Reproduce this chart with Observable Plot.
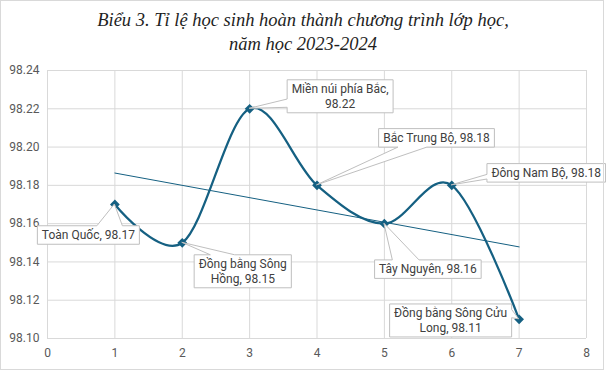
<!DOCTYPE html>
<html><head><meta charset="utf-8">
<script src="https://cdn.jsdelivr.net/npm/d3@7"></script>
<script src="https://cdn.jsdelivr.net/npm/@observablehq/plot@0.6"></script>
<style>
html,body{margin:0;padding:0;background:#fff;}
#wrap{position:relative;width:606px;height:372px;overflow:hidden;background:#fff;}
#frame{position:absolute;left:0;top:0;width:604px;height:370px;border:1px solid #d9d9d9;box-sizing:border-box;pointer-events:none;}
#title{height:60px;box-sizing:border-box;padding-top:8px;text-align:center;font-family:"Liberation Serif","Times New Roman",serif;font-style:italic;font-size:18.5px;line-height:24px;color:#1f1f1f;}
#chart svg{display:block;}
</style></head><body>
<div id="wrap">
<div id="title">Biểu 3. Tỉ lệ học sinh hoàn thành chương trình lớp học,<br>năm học 2023-2024</div>
<div id="chart"></div>
<div id="frame"></div>
</div>
<script>
// ---- data ----
const regions = ["Toàn Quốc", "Đồng bằng Sông Hồng", "Miền núi phía Bắc", "Bắc Trung Bộ", "Tây Nguyên", "Đông Nam Bộ", "Đồng bằng Sông Cửu Long"];
const xPositions = [1, 2, 3, 4, 5, 6, 7];
const rates = [98.17, 98.15, 98.22, 98.18, 98.16, 98.18, 98.11];
const xTicks = [0, 1, 2, 3, 4, 5, 6, 7, 8];
const yTicks = [98.10, 98.12, 98.14, 98.16, 98.18, 98.20, 98.22, 98.24];

// ---- label layout (words on first line; 0 = single line) and callout offsets in px ----
const labelWrapWords = [0, 3, 4, 0, 0, 0, 4];
const calloutOffset = [[-26, 31], [61, 29], [91, -12], [120, -47], [44, 46], [95, -12], [-68, 1.6]];

const COLOR = "#156082";
const LABEL_FONT_SIZE = 12;
const LABEL_FONT = `${LABEL_FONT_SIZE}px Roboto`;
const LINE_H = 14.5;

const data = xPositions.map((x, i) => ({x, y: rates[i], name: regions[i], i}));

function labelLines(i) {
  const text = `${regions[i]}, ${rates[i].toFixed(2)}`;
  const words = text.split(" ");
  const k = labelWrapWords[i];
  if (!k) return [text];
  return [words.slice(0, k).join(" "), words.slice(k).join(" ")];
}

const measureCtx = document.createElement("canvas").getContext("2d");

const diamond = {
  draw(ctx, size) {
    const h = Math.sqrt(size / 2);
    ctx.moveTo(0, -h); ctx.lineTo(h, 0); ctx.lineTo(0, h); ctx.lineTo(-h, 0); ctx.closePath();
  }
};

function callouts(index, scales, values) {
  const g = d3.create("svg:g");
  measureCtx.font = LABEL_FONT;
  for (const i of index) {
    const px = values.x[i], py = values.y[i];
    const lines = labelLines(data[i].i);
    const tw = d3.max(lines, l => measureCtx.measureText(l).width);
    const w = tw + 9, h = lines.length * LINE_H + 4;
    const cx = px + calloutOffset[i][0], cy = py + calloutOffset[i][1];
    const x0 = cx - w / 2, y0 = cy - h / 2, x1 = x0 + w, y1 = y0 + h;
    const dx = px - cx, dy = py - cy;
    const dq = dx * h / w;
    let pts;
    if (Math.abs(dy) > Math.abs(dq)) {
      const f = dx > 0 ? [7, 10] : [2, 5];
      const bx0 = x0 + w * f[0] / 12, bx1 = x0 + w * f[1] / 12;
      if (dy < 0) pts = [[x0, y0], [bx0, y0], [px, py], [bx1, y0], [x1, y0], [x1, y1], [x0, y1]];
      else pts = [[x0, y0], [x1, y0], [x1, y1], [bx1, y1], [px, py], [bx0, y1], [x0, y1]];
    } else {
      const f = dy > 0 ? [7, 10] : [2, 5];
      const by0 = y0 + h * f[0] / 12, by1 = y0 + h * f[1] / 12;
      if (dx > 0) pts = [[x0, y0], [x1, y0], [x1, by0], [px, py], [x1, by1], [x1, y1], [x0, y1]];
      else pts = [[x0, y0], [x1, y0], [x1, y1], [x0, y1], [x0, by1], [px, py], [x0, by0]];
    }
    g.append("path")
      .attr("d", "M" + pts.map(p => p.join(",")).join("L") + "Z")
      .attr("fill", "white").attr("stroke", "#bfbfbf").attr("stroke-width", 1);
    const t = g.append("text")
      .attr("text-anchor", "middle")
      .attr("font-family", "Roboto").attr("font-size", LABEL_FONT_SIZE)
      .attr("fill", "#404040");
    lines.forEach((l, k) => {
      t.append("tspan").attr("x", cx)
        .attr("y", cy + (k - (lines.length - 1) / 2) * LINE_H)
        .attr("dy", "0.35em").text(l);
    });
  }
  return g.node();
}

const chart = Plot.plot({
  width: 606,
  height: 312,
  marginLeft: 47,
  marginRight: 20,
  marginTop: 10,
  marginBottom: 34,
  style: {fontFamily: "Roboto", fontSize: "12px", color: "#595959", background: "white", overflow: "visible"},
  x: {domain: [0, 8], ticks: xTicks, tickSize: 0, tickPadding: 10, label: null},
  y: {domain: [98.10, 98.24], ticks: yTicks, tickFormat: d3.format(".2f"), tickSize: 0, tickPadding: 8, label: null},
  marks: [
    Plot.gridX(xTicks, {stroke: "#d9d9d9", strokeOpacity: 1}),
    Plot.gridY(yTicks, {stroke: "#d9d9d9", strokeOpacity: 1}),
    Plot.linearRegressionY(data, {x: "x", y: "y", stroke: COLOR, strokeWidth: 1, ci: 0}),
    Plot.line(data, {x: "x", y: "y", curve: "cardinal", stroke: COLOR, strokeWidth: 2.25}),
    Plot.dot(data, {x: "x", y: "y", symbol: diamond, r: 3.9, fill: COLOR, stroke: "none"}),
    Plot.dot(data, {x: "x", y: "y", render: callouts})
  ]
});
document.getElementById("chart").appendChild(chart);
</script>
</body></html>
